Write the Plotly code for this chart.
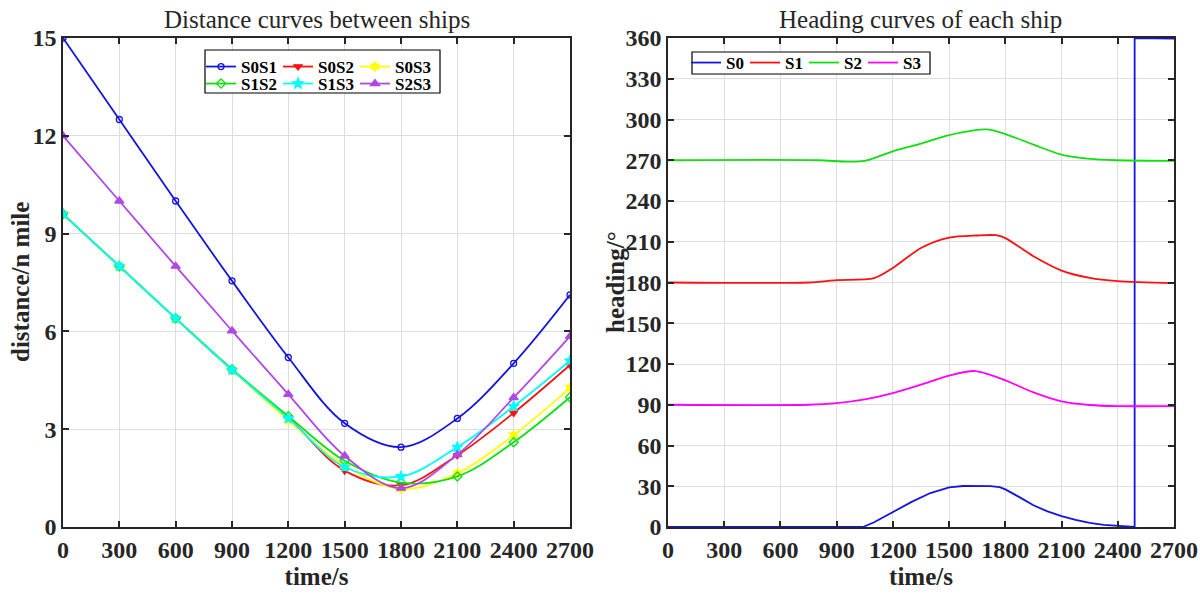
import plotly.graph_objects as go

# ---------------- data ----------------
# distance curves between ships (markers every 300 s)
time_pts = [0, 300, 600, 900, 1200, 1500, 1800, 2100, 2400, 2700]
d_s0s1 = [15.0, 12.5, 10.0, 7.55, 5.2, 3.18, 2.45, 3.33, 5.02, 7.12]
d_s0s2 = [9.6, 8.0, 6.4, 4.82, 3.35, 1.73, 1.28, 2.2, 3.5, 4.97]
d_s0s3 = [9.6, 8.0, 6.4, 4.82, 3.27, 1.88, 1.17, 1.65, 2.82, 4.27]
d_s1s2 = [9.6, 8.0, 6.4, 4.84, 3.4, 2.03, 1.36, 1.55, 2.6, 3.98]
d_s1s3 = [9.6, 8.0, 6.4, 4.82, 3.33, 1.84, 1.55, 2.45, 3.7, 5.1]
d_s2s3 = [12.0, 10.0, 8.0, 6.02, 4.07, 2.18, 1.19, 2.22, 3.97, 5.85]

# heading curves of each ship
t_s0 = [0, 1040, 1100, 1200, 1300, 1400, 1500, 1575, 1650, 1720, 1770, 1800, 1875,
        1950, 2025, 2100, 2175, 2250, 2325, 2400, 2490, 2490, 2700]
h_s0 = [0, 0, 3.5, 11, 18.5, 25, 29.2, 30.2, 30.4, 30.1, 29.4, 27.7, 22,
        16, 11.5, 8, 5.3, 3, 1.6, 0.7, 0, 360, 359.5]
t_s1 = [0, 750, 900, 1100, 1200, 1350, 1500, 1650, 1750, 1800, 1950, 2100, 2250, 2400, 2700]
h_s1 = [180, 180, 181.7, 183.2, 190.7, 205.4, 213, 214.6, 214.8, 212.7, 199.3, 188.8, 183.4, 181, 179.5]
t_s2 = [0, 800, 950, 1050, 1200, 1350, 1500, 1700, 1800, 1950, 2100, 2250, 2400, 2700]
h_s2 = [270, 270, 269, 269.5, 276.6, 282.3, 288.5, 292.7, 289.3, 281.5, 274.1, 271, 270, 269.5]
t_s3 = [0, 750, 900, 1050, 1200, 1350, 1500, 1640, 1800, 1950, 2100, 2250, 2400, 2700]
h_s3 = [90, 90, 91.2, 94, 98.6, 104.8, 111.5, 114.8, 108, 99.1, 92.5, 89.8, 89, 89]

# ---------------- styling ----------------
W, H = 1203, 594
FONT = "Liberation Serif"
INK = "#262626"
blue = "#1414e0"
red = "#ff1010"
yellow = "#ffff00"
green = "#10e010"
cyan = "#00ffff"
purple = "#b048e8"
magenta = "#ff00ff"


def px_x(p):
    # window pixel -> paper fraction
    return p / W


def px_y(p):
    return 1 - p / H


fig = go.Figure()

dist_series = [
    ("S0S1", d_s0s1, blue, "circle-open", 6, "legend"),
    ("S0S2", d_s0s2, red, "triangle-down", 7, "legend"),
    ("S0S3", d_s0s3, yellow, "hexagram", 7, "legend"),
    ("S1S2", d_s1s2, green, "diamond-open", 7, "legend2"),
    ("S1S3", d_s1s3, cyan, "star", 8, "legend2"),
    ("S2S3", d_s2s3, purple, "triangle-up", 8, "legend2"),
]
for name, vals, col, sym, sz, leg in dist_series:
    fig.add_trace(go.Scatter(
        x=time_pts, y=vals, name=name, mode="lines+markers",
        line=dict(color=col, width=1.8, shape="spline", smoothing=1),
        marker=dict(symbol=sym, size=sz, color=col, line=dict(color=col, width=1.3)),
        xaxis="x", yaxis="y", legend=leg))

head_series = [
    ("S0", t_s0, h_s0, blue, "linear"),
    ("S1", t_s1, h_s1, red, "spline"),
    ("S2", t_s2, h_s2, green, "spline"),
    ("S3", t_s3, h_s3, magenta, "spline"),
]
for name, t, h, col, shp in head_series:
    fig.add_trace(go.Scatter(
        x=t, y=h, name=name, mode="lines",
        line=dict(color=col, width=1.8, shape=shp, smoothing=0.8),
        xaxis="x2", yaxis="y2", legend="legend3"))

axis_common = dict(
    showgrid=True, gridcolor="#dedede", gridwidth=1, zeroline=False,
    showline=True, linecolor=INK, linewidth=1.5, mirror="ticks",
    ticks="inside", ticklen=6, tickwidth=1.5, tickcolor=INK, automargin=False,
    tickfont=dict(family=FONT, size=24, color=INK, weight="bold"),
)
title_font = dict(family=FONT, size=25, color=INK, weight="bold")
leg_font = dict(family=FONT, size=17, color="black", weight="bold")
leg_common = dict(orientation="h", bgcolor="rgba(0,0,0,0)", borderwidth=0,
                  font=leg_font, itemwidth=30, tracegroupgap=0,
                  entrywidthmode="pixels",
                  xanchor="left", yanchor="middle", itemclick=False)

fig.update_layout(
    width=W, height=H,
    margin=dict(l=0, r=0, t=0, b=0),
    paper_bgcolor="white", plot_bgcolor="white",
    showlegend=True,
    xaxis=dict(domain=[px_x(63), px_x(570)], range=[0, 2700], dtick=300,
               title=dict(text="time/s", font=title_font, standoff=4),
               anchor="y", **axis_common),
    yaxis=dict(domain=[px_y(527), px_y(38)], range=[0, 15], dtick=3,
               anchor="x", **axis_common),
    xaxis2=dict(domain=[px_x(668), px_x(1174)], range=[0, 2700], dtick=300,
                title=dict(text="time/s", font=title_font, standoff=4),
                anchor="y2", **axis_common),
    yaxis2=dict(domain=[px_y(527), px_y(38)], range=[0, 360], dtick=30,
                anchor="x2", **axis_common),
    legend=dict(x=px_x(201), y=px_y(67), entrywidth=32, **leg_common),
    legend2=dict(x=px_x(201), y=px_y(84), entrywidth=32, **leg_common),
    legend3=dict(x=px_x(686), y=px_y(63), entrywidth=14, **leg_common),
    shapes=[
        dict(type="rect", xref="paper", yref="paper",
             x0=px_x(205), x1=px_x(440), y0=px_y(93), y1=px_y(50),
             line=dict(color="black", width=1.2), fillcolor="white", layer="above"),
        dict(type="rect", xref="paper", yref="paper",
             x0=px_x(692), x1=px_x(930), y0=px_y(74), y1=px_y(52),
             line=dict(color="black", width=1.2), fillcolor="white", layer="above"),
    ],
    annotations=[
        dict(text="Distance curves between ships", xref="paper", yref="paper",
             x=px_x(317), y=px_y(19), xanchor="center", yanchor="middle", showarrow=False,
             font=dict(family=FONT, size=25, color=INK)),
        dict(text="Heading curves of each ship", xref="paper", yref="paper",
             x=px_x(921), y=px_y(19), xanchor="center", yanchor="middle", showarrow=False,
             font=dict(family=FONT, size=25, color=INK)),
        dict(text="distance/n mile", xref="paper", yref="paper", textangle=-90,
             x=px_x(21), y=px_y(282), xanchor="center", yanchor="middle", showarrow=False,
             font=title_font),
        dict(text="heading/°", xref="paper", yref="paper", textangle=-90,
             x=px_x(616), y=px_y(282), xanchor="center", yanchor="middle", showarrow=False,
             font=title_font),
    ],
)

# drop the default 8px page margin so the figure fills the window exactly
fig.write_html("out.html", config={"displayModeBar": False},
               post_script="document.body.style.margin='0px';"
                           "document.body.style.overflow='hidden';")
